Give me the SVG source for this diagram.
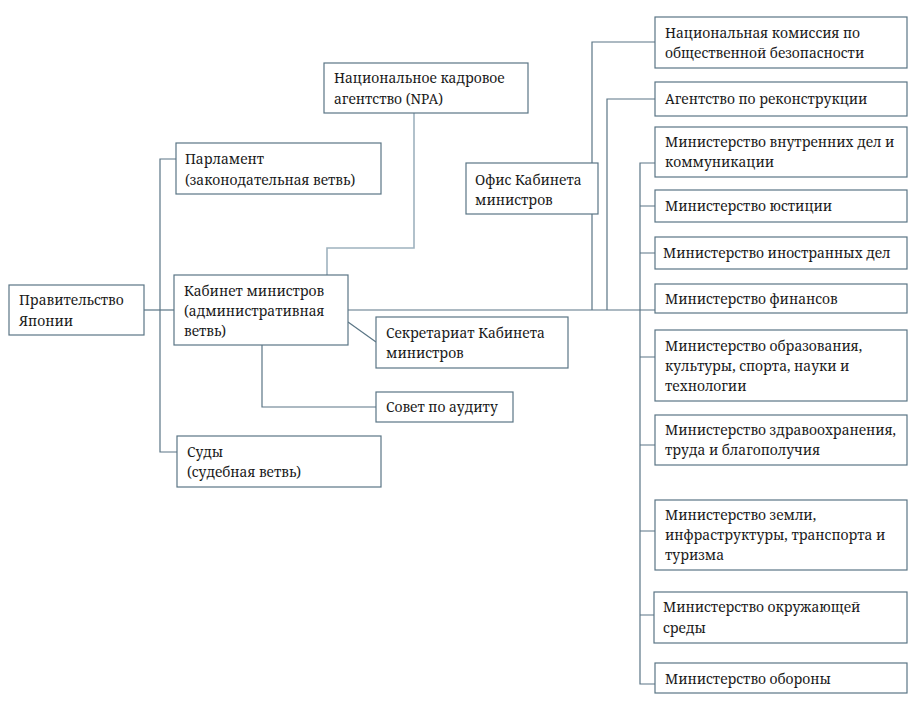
<svg xmlns="http://www.w3.org/2000/svg" width="923" height="710" viewBox="0 0 923 710">
<style>
.box{fill:#ffffff;stroke:#5a7585;stroke-width:1.2}
.ln{fill:none;stroke:#5a7585;stroke-width:1.2}
.lt{fill:none;stroke:#9fb2bf;stroke-width:1.6}
.t{font-family:'Noto Serif','Liberation Serif','DejaVu Serif',serif;font-size:13.8px;fill:#1a1a1a}
</style>
<rect width="923" height="710" fill="#ffffff"/>
<g id="connectors">
<path class="ln" d="M144,310 H174"/>
<path class="ln" d="M176,159 H160 V452 H177"/>
<path class="lt" d="M327,275 V248 H414 V113"/>
<path class="ln" d="M262,345 V407 H376"/>
<path class="ln" d="M348,322 L376,342"/>
<path class="ln" d="M348,310 H655"/>
<path class="ln" d="M592,310 V42 H655"/>
<path class="ln" d="M607,310 V99 H655"/>
<path class="ln" d="M655,163 H640 V684 H655"/>
<path class="ln" d="M640,206 H655 M640,253 H655 M640,357 H655 M640,445 H655 M640,531 H655 M640,615 H654"/>
</g>
<g class="t">
<g id="n-gov"><rect class="box" x="9" y="285" width="135" height="50"/><text x="19" y="305">Правительство</text><text x="19" y="326">Японии</text></g>
<g id="n-parl"><rect class="box" x="176" y="143" width="205" height="51"/><text x="185" y="164">Парламент</text><text x="185" y="185">(законодательная ветвь)</text></g>
<g id="n-cab"><rect class="box" x="174" y="275" width="174" height="70"/><text x="184" y="296">Кабинет министров</text><text x="184" y="316">(административная</text><text x="184" y="336">ветвь)</text></g>
<g id="n-npa"><rect class="box" x="324" y="63" width="204" height="50"/><text x="334" y="83">Национальное кадровое</text><text x="334" y="104">агентство (NPA)</text></g>
<g id="n-office"><rect class="box" x="466" y="163" width="132" height="51"/><text x="475" y="185">Офис Кабинета</text><text x="475" y="205">министров</text></g>
<g id="n-secr"><rect class="box" x="376" y="317" width="192" height="51"/><text x="386" y="338">Секретариат Кабинета</text><text x="386" y="358">министров</text></g>
<g id="n-audit"><rect class="box" x="376" y="392" width="137" height="30"/><text x="386" y="412">Совет по аудиту</text></g>
<g id="n-courts"><rect class="box" x="177" y="436" width="204" height="51"/><text x="187" y="457">Суды</text><text x="187" y="477">(судебная ветвь)</text></g>
<g id="n-npsc"><rect class="box" x="655" y="17" width="252" height="51"/><text x="665" y="38">Национальная комиссия по</text><text x="665" y="58">общественной безопасности</text></g>
<g id="n-recon"><rect class="box" x="655" y="82" width="252" height="34"/><text x="665" y="104">Агентство по реконструкции</text></g>
<g id="n-mic"><rect class="box" x="655" y="127" width="252" height="50"/><text x="665" y="147">Министерство внутренних дел и</text><text x="665" y="167">коммуникации</text></g>
<g id="n-moj"><rect class="box" x="655" y="190" width="252" height="32"/><text x="665" y="211">Министерство юстиции</text></g>
<g id="n-mofa"><rect class="box" x="655" y="237" width="252" height="32"/><text x="663" y="258">Министерство иностранных дел</text></g>
<g id="n-mof"><rect class="box" x="655" y="284" width="252" height="29"/><text x="665" y="304">Министерство финансов</text></g>
<g id="n-mext"><rect class="box" x="655" y="330" width="252" height="71"/><text x="665" y="351">Министерство образования,</text><text x="665" y="371">культуры, спорта, науки и</text><text x="665" y="391">технологии</text></g>
<g id="n-mhlw"><rect class="box" x="655" y="415" width="252" height="50"/><text x="665" y="435">Министерство здравоохранения,</text><text x="665" y="455">труда и благополучия</text></g>
<g id="n-mlit"><rect class="box" x="655" y="500" width="252" height="70"/><text x="665" y="520">Министерство земли,</text><text x="665" y="540">инфраструктуры, транспорта и</text><text x="665" y="560">туризма</text></g>
<g id="n-moe"><rect class="box" x="654" y="592" width="253" height="51"/><text x="663" y="612">Министерство окружающей</text><text x="663" y="633">среды</text></g>
<g id="n-mod"><rect class="box" x="655" y="663" width="252" height="30"/><text x="665" y="684">Министерство обороны</text></g>
</g>
</svg>
